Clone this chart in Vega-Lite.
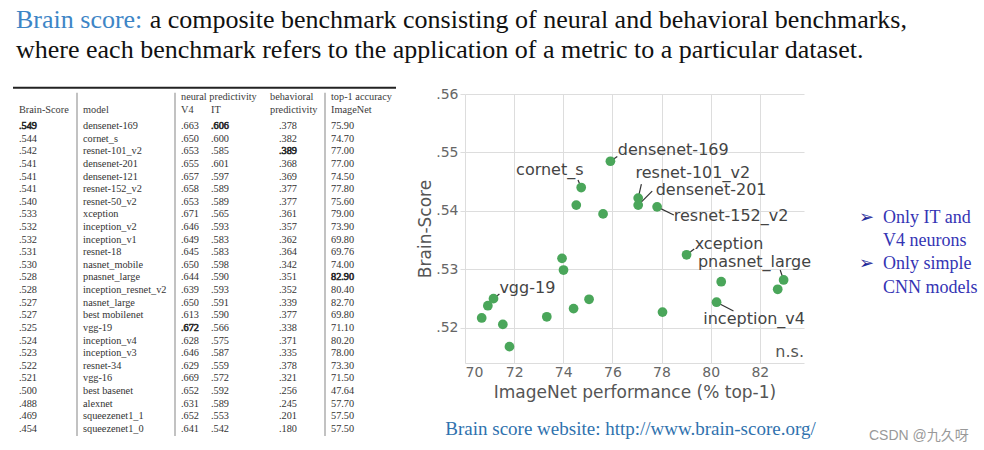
{
  "$schema": "https://vega.github.io/schema/vega-lite/v6.json",
  "background": "white",
  "padding": {"left": 12, "top": 0, "right": 0, "bottom": 0},
  "config": {"view": {"stroke": null}, "font": "DejaVu Sans"},
  "datasets": {
    "title": [
      {"line": 1, "part": "lead", "text": "Brain score:"},
      {"line": 1, "part": "rest", "text": "a composite benchmark consisting of neural and behavioral benchmarks,"},
      {"line": 2, "part": "body", "text": "where each benchmark refers to the application of a metric to a particular dataset."}
    ],
    "table": [
      {"score": ".549", "model": "densenet-169", "v4": ".663", "it": ".606", "beh": ".378", "top1": "75.90", "bold": "score it"},
      {"score": ".544", "model": "cornet_s", "v4": ".650", "it": ".600", "beh": ".382", "top1": "74.70"},
      {"score": ".542", "model": "resnet-101_v2", "v4": ".653", "it": ".585", "beh": ".389", "top1": "77.00", "bold": "beh"},
      {"score": ".541", "model": "densenet-201", "v4": ".655", "it": ".601", "beh": ".368", "top1": "77.00"},
      {"score": ".541", "model": "densenet-121", "v4": ".657", "it": ".597", "beh": ".369", "top1": "74.50"},
      {"score": ".541", "model": "resnet-152_v2", "v4": ".658", "it": ".589", "beh": ".377", "top1": "77.80"},
      {"score": ".540", "model": "resnet-50_v2", "v4": ".653", "it": ".589", "beh": ".377", "top1": "75.60"},
      {"score": ".533", "model": "xception", "v4": ".671", "it": ".565", "beh": ".361", "top1": "79.00"},
      {"score": ".532", "model": "inception_v2", "v4": ".646", "it": ".593", "beh": ".357", "top1": "73.90"},
      {"score": ".532", "model": "inception_v1", "v4": ".649", "it": ".583", "beh": ".362", "top1": "69.80"},
      {"score": ".531", "model": "resnet-18", "v4": ".645", "it": ".583", "beh": ".364", "top1": "69.76"},
      {"score": ".530", "model": "nasnet_mobile", "v4": ".650", "it": ".598", "beh": ".342", "top1": "74.00"},
      {"score": ".528", "model": "pnasnet_large", "v4": ".644", "it": ".590", "beh": ".351", "top1": "82.90", "bold": "top1"},
      {"score": ".528", "model": "inception_resnet_v2", "v4": ".639", "it": ".593", "beh": ".352", "top1": "80.40"},
      {"score": ".527", "model": "nasnet_large", "v4": ".650", "it": ".591", "beh": ".339", "top1": "82.70"},
      {"score": ".527", "model": "best mobilenet", "v4": ".613", "it": ".590", "beh": ".377", "top1": "69.80"},
      {"score": ".525", "model": "vgg-19", "v4": ".672", "it": ".566", "beh": ".338", "top1": "71.10", "bold": "v4"},
      {"score": ".524", "model": "inception_v4", "v4": ".628", "it": ".575", "beh": ".371", "top1": "80.20"},
      {"score": ".523", "model": "inception_v3", "v4": ".646", "it": ".587", "beh": ".335", "top1": "78.00"},
      {"score": ".522", "model": "resnet-34", "v4": ".629", "it": ".559", "beh": ".378", "top1": "73.30"},
      {"score": ".521", "model": "vgg-16", "v4": ".669", "it": ".572", "beh": ".321", "top1": "71.50"},
      {"score": ".500", "model": "best basenet", "v4": ".652", "it": ".592", "beh": ".256", "top1": "47.64"},
      {"score": ".488", "model": "alexnet", "v4": ".631", "it": ".589", "beh": ".245", "top1": "57.70"},
      {"score": ".469", "model": "squeezenet1_1", "v4": ".652", "it": ".553", "beh": ".201", "top1": "57.50"},
      {"score": ".454", "model": "squeezenet1_0", "v4": ".641", "it": ".542", "beh": ".180", "top1": "57.50"}
    ],
    "cols": [
      {"key": "score", "col": 0}, {"key": "model", "col": 1}, {"key": "v4", "col": 2},
      {"key": "it", "col": 3}, {"key": "beh", "col": 5}, {"key": "top1", "col": 6}
    ],
    "header": [
      {"row": "h2", "col": 0, "text": "Brain-Score"},
      {"row": "h2", "col": 1, "text": "model"},
      {"row": "h1", "col": 2, "text": "neural predictivity"},
      {"row": "h2", "col": 2, "text": "V4"},
      {"row": "h2", "col": 3, "text": "IT"},
      {"row": "h1", "col": 4, "text": "behavioral"},
      {"row": "h2", "col": 4, "text": "predictivity"},
      {"row": "h1", "col": 6, "text": "top-1 accuracy"},
      {"row": "h2", "col": 6, "text": "ImageNet"}
    ],
    "rules": [{"col": 1}, {"col": 2}, {"col": 6}],
    "points": [
      {"model": "densenet-169", "top1": 75.92, "score": 0.5485},
      {"model": "cornet_s", "top1": 74.73, "score": 0.544},
      {"model": "resnet-101_v2", "top1": 77.05, "score": 0.5422},
      {"model": "densenet-201", "top1": 77.05, "score": 0.541},
      {"model": "densenet-121", "top1": 74.53, "score": 0.541},
      {"model": "resnet-152_v2", "top1": 77.82, "score": 0.5407},
      {"model": "resnet-50_v2", "top1": 75.62, "score": 0.5395},
      {"model": "xception", "top1": 79.02, "score": 0.5325},
      {"model": "inception_v2", "top1": 73.95, "score": 0.5319},
      {"model": "nasnet_mobile", "top1": 74.01, "score": 0.5299},
      {"model": "pnasnet_large", "top1": 82.97, "score": 0.5282},
      {"model": "inception_resnet_v2", "top1": 80.43, "score": 0.5279},
      {"model": "nasnet_large", "top1": 82.73, "score": 0.5266},
      {"model": "vgg-19", "top1": 71.16, "score": 0.525},
      {"model": "inception_v4", "top1": 80.24, "score": 0.5244},
      {"model": "inception_v3", "top1": 78.04, "score": 0.5227},
      {"model": "resnet-34", "top1": 73.33, "score": 0.5219},
      {"model": "vgg-16", "top1": 71.54, "score": 0.5206},
      {"model": "", "top1": 70.68, "score": 0.5217},
      {"model": "", "top1": 70.93, "score": 0.5238},
      {"model": "", "top1": 71.81, "score": 0.5168},
      {"model": "", "top1": 74.42, "score": 0.5233},
      {"model": "", "top1": 75.05, "score": 0.5249}
    ],
    "annotations": [
      {"label": "densenet-169", "top1": 75.92, "score": 0.5485, "ex": 76.2, "ey": 0.5493, "tx": 76.22, "ty": 0.5504},
      {"label": "cornet_s", "top1": 74.73, "score": 0.544, "ex": 74.6, "ey": 0.5453, "tx": 72.08, "ty": 0.547},
      {"label": "resnet-101_v2", "top1": 77.05, "score": 0.5422, "ex": 77.18, "ey": 0.5446, "tx": 76.94, "ty": 0.5465},
      {"label": "densenet-201", "top1": 77.05, "score": 0.541, "ex": 77.62, "ey": 0.5434, "tx": 77.76, "ty": 0.5436},
      {"label": "resnet-152_v2", "top1": 77.82, "score": 0.5407, "ex": 78.5, "ey": 0.5393, "tx": 78.5, "ty": 0.5391},
      {"label": "xception", "top1": 79.02, "score": 0.5325, "ex": 79.33, "ey": 0.5335, "tx": 79.35, "ty": 0.5343},
      {"label": "pnasnet_large", "top1": 82.97, "score": 0.5282, "ex": 82.83, "ey": 0.5299, "tx": 79.48, "ty": 0.5312},
      {"label": "inception_v4", "top1": 80.24, "score": 0.5244, "ex": 80.93, "ey": 0.5229, "tx": 79.7, "ty": 0.5216},
      {"label": "vgg-19", "top1": 71.16, "score": 0.525, "ex": 71.4, "ey": 0.5258, "tx": 71.4, "ty": 0.5268}
    ],
    "notes": [{"text": "n.s.", "tx": 83.8, "ty": 0.5158}],
    "bullets": [
      {"line": 1, "text": "Only IT and", "bullet": true},
      {"line": 2, "text": "V4 neurons", "bullet": false},
      {"line": 3, "text": "Only simple", "bullet": true},
      {"line": 4, "text": "CNN models", "bullet": false}
    ]
  },
  "spacing": 0,
  "vconcat": [
    {
      "width": 891,
      "height": 86,
      "data": {"name": "title"},
      "encoding": {
        "y": {"field": "line", "type": "ordinal", "axis": null, "scale": {"type": "point", "padding": 0.9}},
        "text": {"field": "text"},
        "color": {"field": "part", "type": "nominal", "legend": null, "scale": {"domain": ["lead", "rest", "body"], "range": ["#3d85c6", "#111111", "#111111"]}}
      },
      "layer": [
        {
          "transform": [{"filter": "datum.part != 'rest'"}],
          "mark": {"type": "text", "align": "left", "baseline": "alphabetic", "font": "Liberation Serif", "fontSize": 26, "dx": 3},
          "encoding": {"x": {"datum": "start", "type": "nominal", "axis": null, "scale": {"type": "point", "domain": ["start", "end"], "padding": 0}}}
        },
        {
          "transform": [{"filter": "datum.part == 'rest'"}],
          "mark": {"type": "text", "align": "right", "baseline": "alphabetic", "font": "Liberation Serif", "fontSize": 26, "dx": 3},
          "encoding": {"x": {"datum": "end", "type": "nominal"}}
        }
      ]
    },
    {
      "spacing": 19,
      "hconcat": [
        {
          "width": 383,
          "height": 341.75,
          "encoding": {
            "y": {"field": "row", "type": "ordinal", "axis": null, "scale": {"type": "point", "padding": 0.5347, "domain": ["h1", "h2", "densenet-169", "cornet_s", "resnet-101_v2", "densenet-201", "densenet-121", "resnet-152_v2", "resnet-50_v2", "xception", "inception_v2", "inception_v1", "resnet-18", "nasnet_mobile", "pnasnet_large", "inception_resnet_v2", "nasnet_large", "best mobilenet", "vgg-19", "inception_v4", "inception_v3", "resnet-34", "vgg-16", "best basenet", "alexnet", "squeezenet1_1", "squeezenet1_0"]}}
          },
          "layer": [
            {
              "data": {"values": [{"row": "h1"}]},
              "mark": {"type": "rule", "color": "#222222", "strokeWidth": 2, "yOffset": -13}
            },
            {
              "data": {"name": "rules"},
              "mark": {"type": "rule", "color": "#999999", "strokeWidth": 1.2, "xOffset": -6, "yOffset": -8, "y2Offset": 7},
              "encoding": {
                "x": {"field": "col", "type": "quantitative", "axis": null, "scale": {"domain": [0, 1, 2, 3, 4, 5, 6], "range": [6, 70, 168, 198, 257, 266, 318], "nice": false, "zero": false}},
                "y": {"datum": "h1", "type": "ordinal"},
                "y2": {"datum": "squeezenet1_0"}
              }
            },
            {
              "data": {"name": "header"},
              "mark": {"type": "text", "align": "left", "baseline": "middle", "font": "Liberation Serif", "fontSize": 10.3, "color": "#3a3a3a", "dy": -3.5},
              "encoding": {
                "x": {"field": "col", "type": "quantitative"},
                "text": {"field": "text"}
              }
            },
            {
              "data": {"name": "table"},
              "transform": [
                {"fold": ["score", "model", "v4", "it", "beh", "top1"], "as": ["key", "text"]},
                {"lookup": "key", "from": {"data": {"name": "cols"}, "key": "key", "fields": ["col"]}}
              ],
              "mark": {"type": "text", "align": "left", "baseline": "middle", "font": "Liberation Serif", "fontSize": 10.3, "color": "#333333", "stroke": "#222222"},
              "encoding": {
                "x": {"field": "col", "type": "quantitative"},
                "y": {"field": "model", "type": "ordinal"},
                "text": {"field": "text"},
                "strokeWidth": {"condition": {"test": "indexof(datum.bold || '', datum.key) >= 0", "value": 0.6}, "value": 0}
              }
            }
          ]
        },
        {
          "spacing": 43,
          "hconcat": [
            {
              "width": 339,
              "height": 269,
              "title": {"text": "Brain score website: http://www.brain-score.org/", "orient": "bottom", "anchor": "middle", "frame": "group", "font": "Liberation Serif", "fontSize": 19, "fontWeight": "normal", "color": "#2f72ae", "offset": 20, "dx": -4},
              "layer": [
                {
                  "data": {"name": "annotations"},
                  "mark": {"type": "rule", "color": "#333333", "strokeWidth": 1.2},
                  "encoding": {
                    "x": {"field": "top1", "type": "quantitative", "title": "ImageNet performance (% top-1)",
                      "scale": {"domain": [70, 83.8], "nice": false, "zero": false},
                      "axis": {"values": [70, 72, 74, 76, 78, 80, 82], "grid": true, "gridColor": "#dddddd", "domain": true, "domainColor": "#dddddd", "ticks": false, "labelFont": "DejaVu Sans", "labelFontSize": 14, "labelColor": "#666666", "labelPadding": 2, "titleFont": "DejaVu Sans", "titleFontSize": 17, "titleFontWeight": "normal", "titleColor": "#555555", "titlePadding": 5}},
                    "y": {"field": "score", "type": "quantitative", "title": "Brain-Score",
                      "scale": {"domain": [0.514, 0.56], "nice": false, "zero": false},
                      "axis": {"values": [0.52, 0.53, 0.54, 0.55, 0.56], "labelExpr": "replace(format(datum.value, '.2f'), '0.', '.')", "grid": true, "gridColor": "#dddddd", "domain": false, "ticks": true, "tickColor": "#dddddd", "tickSize": 5, "labelFont": "DejaVu Sans", "labelFontSize": 14, "labelColor": "#666666", "labelPadding": 2, "titleFont": "DejaVu Sans", "titleFontSize": 17, "titleFontWeight": "normal", "titleColor": "#555555", "titlePadding": 1}},
                    "x2": {"field": "ex"},
                    "y2": {"field": "ey"}
                  }
                },
                {
                  "data": {"name": "points"},
                  "mark": {"type": "circle", "size": 95, "opacity": 1, "color": "#4aa65a"},
                  "encoding": {
                    "x": {"field": "top1", "type": "quantitative", "title": "ImageNet performance (% top-1)"},
                    "y": {"field": "score", "type": "quantitative", "title": "Brain-Score"}
                  }
                },
                {
                  "data": {"name": "annotations"},
                  "mark": {"type": "text", "align": "left", "baseline": "middle", "font": "DejaVu Sans", "fontSize": 16, "color": "#444444"},
                  "encoding": {
                    "x": {"field": "tx", "type": "quantitative", "title": "ImageNet performance (% top-1)"},
                    "y": {"field": "ty", "type": "quantitative", "title": "Brain-Score"},
                    "text": {"field": "label"}
                  }
                },
                {
                  "data": {"name": "notes"},
                  "mark": {"type": "text", "align": "right", "baseline": "middle", "font": "DejaVu Sans", "fontSize": 16, "color": "#555555"},
                  "encoding": {
                    "x": {"field": "tx", "type": "quantitative", "title": "ImageNet performance (% top-1)"},
                    "y": {"field": "ty", "type": "quantitative", "title": "Brain-Score"},
                    "text": {"field": "text"}
                  }
                }
              ]
            },
            {
              "width": 22,
              "height": 317.4,
              "title": {"text": "CSDN @九久呀", "orient": "bottom", "anchor": "start", "frame": "group", "font": "Liberation Sans, Noto Sans CJK SC", "fontSize": 14, "fontWeight": "normal", "color": "#999999", "offset": 18, "dx": 8},
              "data": {"name": "bullets"},
              "encoding": {
                "y": {"field": "line", "type": "quantitative", "axis": null, "scale": {"domain": [-4.31, 9.31], "reverse": true, "nice": false, "zero": false}}
              },
              "layer": [
                {
                  "transform": [{"filter": "datum.bullet"}],
                  "mark": {"type": "text", "align": "left", "baseline": "middle", "font": "DejaVu Sans", "fontSize": 18, "color": "#1f2a9a", "dx": -2},
                  "encoding": {
                    "x": {"datum": "bullet", "type": "nominal", "axis": null, "scale": {"type": "point", "domain": ["bullet", "text"], "padding": 0}},
                    "text": {"value": "➢"}
                  }
                },
                {
                  "mark": {"type": "text", "align": "left", "baseline": "middle", "font": "Liberation Serif", "fontSize": 18, "color": "#3434b4"},
                  "encoding": {
                    "x": {"datum": "text", "type": "nominal"},
                    "text": {"field": "text"}
                  }
                }
              ]
            }
          ]
        }
      ]
    }
  ]
}
